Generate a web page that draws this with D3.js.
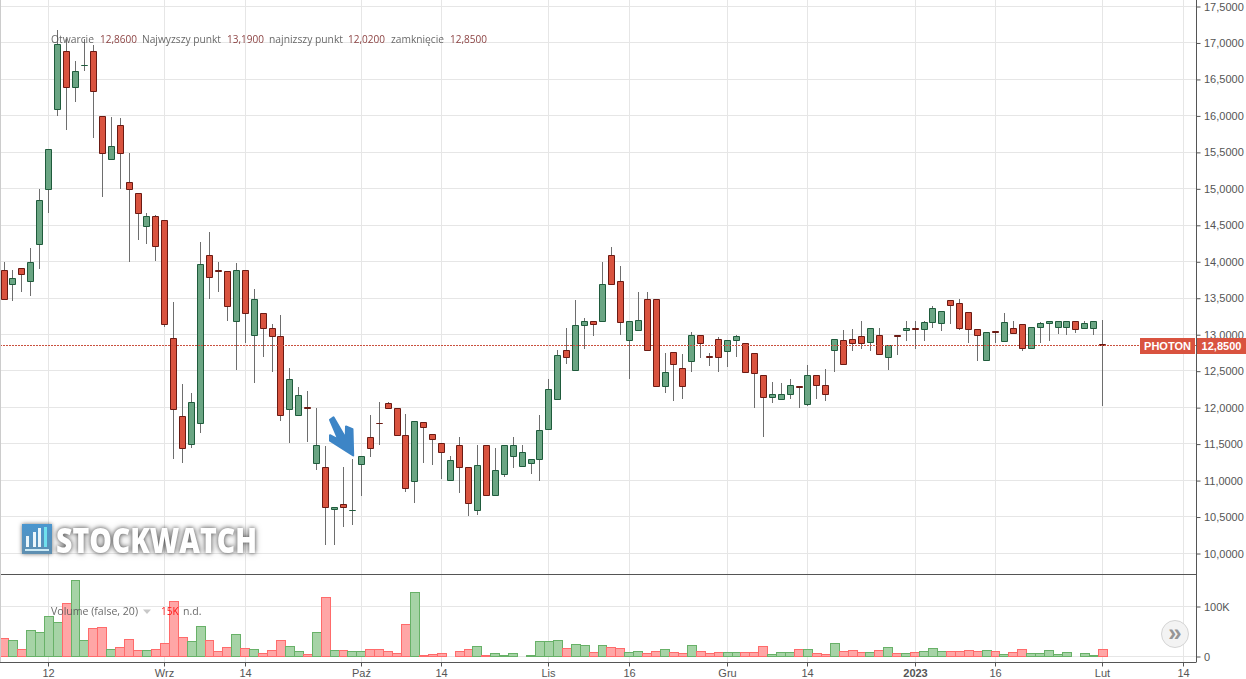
<!DOCTYPE html>
<html><head><meta charset="utf-8">
<script src="https://cdnjs.cloudflare.com/ajax/libs/d3/7.8.5/d3.min.js"></script>
<style>
html,body{margin:0;padding:0;background:#fff;overflow:hidden}
svg{display:block}
text{font-family:"Liberation Sans",Arial,sans-serif}
</style></head><body><svg id="c" width="1246" height="679"></svg>
<script>
const open=[13.884,13.69,13.907,13.73,14.237,14.99,16.09,16.884,16.39,16.69,16.884,15.99,15.40,15.87,15.09,14.936,14.484,14.62,14.566,12.948,11.878,11.493,11.782,14.086,13.88,13.866,13.18,13.88,12.989,13.29,13.085,12.975,11.974,11.891,12.0,11.233,11.178,10.60,10.67,10.585,11.219,11.59,11.785,12.056,11.987,11.617,10.986,11.795,11.63,11.507,10.999,11.48,11.178,10.588,11.48,10.794,11.082,11.329,11.192,11.233,11.288,11.699,12.111,12.783,12.509,13.126,13.18,13.18,14.086,13.729,12.92,13.057,13.482,13.482,12.289,12.755,12.536,12.632,12.989,12.695,12.934,12.769,12.92,12.879,12.742,12.44,12.138,12.11,12.18,12.285,12.042,12.44,12.303,12.783,12.92,12.934,12.975,12.892,12.989,12.687,12.985,13.057,13.085,13.071,13.167,13.153,13.469,13.428,13.304,13.071,12.646,13.035,12.906,13.085,13.14,12.81,13.098,13.153,13.098,13.098,13.18,13.085,13.085,12.86];
const close=[13.473,13.77,13.825,13.99,14.84,15.54,16.98,16.39,16.61,16.695,16.336,15.485,15.58,15.485,14.99,14.662,14.62,14.21,13.14,11.974,11.439,12.07,13.962,13.784,13.87,13.386,13.88,13.29,13.482,13.085,12.975,11.891,12.385,12.166,11.98,11.48,10.63,10.63,10.63,10.59,11.329,11.439,11.78,11.987,11.617,10.89,11.809,11.726,11.562,11.384,11.274,11.178,10.684,11.205,10.794,11.137,11.48,11.48,11.384,11.288,11.685,12.248,12.714,12.687,13.126,13.18,13.14,13.688,13.688,13.167,13.18,13.194,12.783,12.289,12.481,12.591,12.289,12.989,12.879,12.685,12.687,12.92,12.975,12.481,12.467,12.138,12.18,12.18,12.303,12.275,12.44,12.303,12.18,12.934,12.591,12.879,12.879,13.085,12.728,12.852,12.975,13.085,13.075,13.167,13.359,13.318,13.4,13.085,13.071,12.989,13.03,13.025,13.167,13.016,12.81,13.098,13.153,13.18,13.18,13.18,13.071,13.153,13.18,12.85];
const high=[13.994,13.88,13.907,14.186,14.991,15.54,17.176,17.05,16.75,17.05,16.966,15.99,15.98,15.965,15.485,14.936,14.662,14.635,14.566,13.445,12.32,12.184,14.268,14.392,13.994,13.866,13.967,13.88,13.62,13.29,13.14,13.263,12.536,12.275,12.22,11.987,11.466,10.63,11.178,11.288,11.329,11.891,12.07,12.07,11.987,11.905,11.809,11.795,11.63,11.507,11.329,11.59,11.178,11.48,11.48,11.439,11.48,11.59,11.48,11.288,11.891,12.385,12.783,13.085,13.469,13.22,13.18,13.99,14.196,13.935,13.18,13.578,13.578,13.482,12.742,12.755,12.728,13.03,12.989,12.742,12.961,12.92,12.989,12.879,12.742,12.44,12.344,12.33,12.389,12.285,12.577,12.44,12.522,12.934,13.057,13.071,13.18,13.085,13.085,12.852,12.985,13.18,13.18,13.18,13.386,13.318,13.469,13.473,13.304,13.071,13.03,13.035,13.29,13.18,13.14,13.098,13.167,13.18,13.18,13.18,13.18,13.18,13.18,13.19];
const low=[13.473,13.47,13.587,13.532,13.902,14.67,16.0,15.81,16.19,16.62,15.70,14.89,15.40,15.0,14.0,14.305,14.25,14.017,13.107,11.296,11.247,11.452,11.658,13.496,13.592,13.189,12.522,12.887,12.338,12.695,12.489,11.817,11.515,11.891,11.53,11.15,10.12,10.12,10.369,10.39,10.79,11.333,11.493,11.987,11.617,10.843,10.692,11.241,11.214,11.018,10.999,10.83,10.514,10.528,10.794,10.794,11.05,11.173,11.192,11.096,10.994,11.699,12.111,12.6,12.509,12.81,12.99,13.18,13.688,13.0,12.399,13.057,12.783,12.289,12.2,12.092,12.119,12.489,12.681,12.572,12.489,12.558,12.695,12.481,11.996,11.598,12.064,12.11,12.119,11.996,12.029,12.119,12.092,12.489,12.591,12.777,12.805,12.777,12.728,12.522,12.728,12.915,12.805,12.915,13.098,13.052,13.148,13.071,12.887,12.64,12.646,12.887,12.906,13.016,12.777,12.81,12.887,12.924,13.016,12.997,13.025,13.085,13.0,12.02];
const volumeK=[36,32,15,52,48,80,68,106,152,32,56,58,15,19,34,13,13,15,26,110,38,30,60,32,11,19,44,17,15,7,13,32,21,11,5,48,118,13,13,11,11,15,15,11,7,64,128,3,5,7,1,11,15,21,3,7,3,7,1,3,30,30,32,17,25,23,9,23,19,17,9,11,7,11,15,9,7,23,11,7,9,9,9,9,9,21,5,9,9,15,15,7,5,26,11,13,9,9,13,19,7,7,9,11,17,11,11,11,13,11,13,11,5,9,15,7,7,13,5,9,1,7,3,15];
const xTickIndex=[5,18,27,40,49,61,70,81,90,102,111,123,132];
const xTickLabels=["12","Wrz","14","Paź","14","Lis","16","Gru","14","2023","16","Lut","14"];
const priceTicks=[10,10.5,11,11.5,12,12.5,13,13.5,14,14.5,15,15.5,16,16.5,17,17.5];
const volumeTicks=[0,100];
const lastPrice=12.85;
const symbol="PHOTON";
const infoLabels=["Otwarcie","Najwyzszy punkt","najnizszy punkt","zamknięcie"];
const infoValues=["12,8600","13,1900","12,0200","12,8500"];

const RIGHT=1196, W=1246, H=679, SEP=574.5, BOT=662.5;
const cRed="#d9533f", cRedB="#6b1a13", cGrn="#6aa583", cGrnB="#1f5b3c", wick="#6e6e6e", grid="#e6e6e6", axisC="#555";
const snap=v=>Math.floor(v)+0.5;
const x=d3.scaleLinear().domain([0,123]).range([4.05,1102.69]);
const y=d3.scaleLinear().domain([10,17.5]).range([553.2,6.4]);
const yv=d3.scaleLinear().domain([0,100]).range([656.7,606.3]);
const step=x(1)-x(0);
const n=open.length, idx=d3.range(n);
const fmt=d3.format(".4f");
const comma=v=>fmt(v).replace(".",",");
const svg=d3.select("#c");

// grids
const g=svg.append("g").attr("fill","none").attr("stroke",grid).attr("stroke-width",1);
g.selectAll(".v").data(xTickIndex).join("line").attr("x1",d=>snap(x(d))).attr("x2",d=>snap(x(d))).attr("y1",0).attr("y2",BOT);
g.selectAll(".h").data(priceTicks).join("line").attr("x1",0).attr("x2",RIGHT).attr("y1",d=>snap(y(d))).attr("y2",d=>snap(y(d)));
g.selectAll(".hv").data(volumeTicks).join("line").attr("x1",0).attr("x2",RIGHT).attr("y1",d=>snap(yv(d))).attr("y2",d=>snap(yv(d)));

// watermark
const wm=svg.append("g");
const defs=svg.append("defs");
const lg=defs.append("linearGradient").attr("id","ic").attr("x1",0).attr("y1",0).attr("x2",0).attr("y2",1);
lg.append("stop").attr("offset",0).attr("stop-color","#4a96cf");
lg.append("stop").attr("offset",1).attr("stop-color","#5f8fb0");
wm.append("rect").attr("x",22).attr("y",524).attr("width",30).attr("height",30).attr("fill","url(#ic)").style("filter","drop-shadow(0 0 2px rgba(0,0,0,.55))");
[[26,536,3,11],[33,532,3,15],[38,528,3,19],[44,527,3,20]].forEach((b,i)=>wm.append("rect").attr("x",b[0]).attr("y",b[1]).attr("width",b[2]).attr("height",b[3]).attr("fill",i==3?"#6fe0ee":"#eaf6fb"));
wm.append("rect").attr("x",25).attr("y",549).attr("width",24).attr("height",2).attr("fill","#cdeaf5");
wm.append("text").text("STOCKWATCH").attr("x",56).attr("y",553).attr("textLength",201).attr("lengthAdjust","spacingAndGlyphs")
  .attr("font-size",36).attr("font-weight",800).style("font-family","'Open Sans'").attr("fill","#fff")
  .style("filter","drop-shadow(0 0 2px rgba(0,0,0,.55)) drop-shadow(0 0 3px rgba(0,0,0,.3))");

// volume
const vg=svg.append("g");
const red=i=>close[i]<open[i];
vg.selectAll("rect").data(idx).join("rect")
  .attr("x",i=>snap(x(i)-step/2)).attr("width",i=>snap(x(i+1)-step/2)-snap(x(i)-step/2))
  .attr("y",i=>snap(yv(volumeK[i]))).attr("height",i=>Math.max(0,snap(yv(0))-snap(yv(volumeK[i]))))
  .attr("fill",i=>red(i)?"#ffa6a6":"#a6d3a6").attr("stroke",i=>red(i)?"#ff6b6b":"#68b168").attr("stroke-width",1);

// candles
const cg=svg.append("g");
cg.selectAll("line").data(idx).join("line")
  .attr("x1",i=>snap(x(i))).attr("x2",i=>snap(x(i)))
  .attr("y1",i=>Math.floor(y(high[i]))).attr("y2",i=>Math.ceil(y(low[i])))
  .attr("stroke",wick).attr("stroke-width",1);
cg.selectAll("path").data(idx).join("path")
  .attr("d",i=>{const c=snap(x(i)),t=snap(y(Math.max(open[i],close[i]))),b=snap(y(Math.min(open[i],close[i])));
    return `M${c-3},${t}H${c+3}V${b}H${c-3}Z`;})
  .attr("fill",i=>red(i)?cRed:cGrn).attr("stroke",i=>red(i)?cRedB:cGrnB).attr("stroke-width",1);

// arrow annotation, anchored to a data point
const arrowAnchor={i:39,v:11.33};
const arrowShape=[[-24,-36.5],[-20.5,-39],[-8.3,-18],[-8,-29.7],[-1.5,-27],[-.8,-.8],[-24,-15.5],[-24,-21],[-15.5,-16.5]];
svg.append("path").attr("transform",`translate(${x(arrowAnchor.i)+1.6},${y(arrowAnchor.v)})`)
  .attr("d",d3.line()(arrowShape)+"Z").attr("fill","#3d85c6").attr("stroke","#3d85c6").attr("stroke-width",2).attr("stroke-linejoin","round");

// last price line
svg.append("line").attr("x1",0).attr("x2",RIGHT).attr("y1",snap(y(lastPrice))).attr("y2",snap(y(lastPrice)))
  .attr("stroke","#c9503e").attr("stroke-width",1).attr("stroke-dasharray","2,1");

// axes and frame
const frame=svg.append("g").attr("stroke",axisC).attr("stroke-width",1);
frame.append("line").attr("x1",0).attr("x2",RIGHT).attr("y1",SEP).attr("y2",SEP);
svg.append("line").attr("x1",.5).attr("x2",.5).attr("y1",0).attr("y2",BOT).attr("stroke","#ccc");
function style(a){a.selectAll("text").attr("fill",axisC).attr("font-size",11).style("font-family","'Liberation Sans'");a.selectAll("line").attr("stroke",axisC);a.selectAll(".domain").attr("stroke",axisC);}
const yAxis=svg.append("g").attr("transform",`translate(${RIGHT+.5},0)`)
  .call(d3.axisRight(d3.scaleLinear().domain(y.domain()).range(y.range().map(v=>snap(v)))).tickValues(priceTicks).tickFormat(comma).tickSize(4).tickPadding(3.5).tickSizeOuter(0));
yAxis.select(".domain").attr("d",`M0,0V${BOT}`);
style(yAxis);
const yvAxis=svg.append("g").attr("transform",`translate(${RIGHT+.5},0)`)
  .call(d3.axisRight(d3.scaleLinear().domain(yv.domain()).range(yv.range().map(v=>snap(v)))).tickValues(volumeTicks).tickFormat(v=>v?v+"K":"0").tickSize(4).tickPadding(3.5).tickSizeOuter(0));
yvAxis.select(".domain").remove();
style(yvAxis);
const xLab=new Map(xTickIndex.map((d,i)=>[d,xTickLabels[i]]));
const xAxis=svg.append("g").attr("transform",`translate(0,${BOT})`)
  .call(d3.axisBottom(d3.scaleLinear().domain([0,1]).range([x(0),x(1)])).tickValues(xTickIndex).tickFormat(d=>xLab.get(d)).tickSize(4).tickPadding(3).tickSizeOuter(0));
xAxis.selectAll(".tick").attr("transform",d=>`translate(${snap(x(d))},0)`);
xAxis.select(".domain").attr("d",`M0,0H${RIGHT}`);
style(xAxis);
xAxis.selectAll("text").filter(d=>d===102).attr("font-weight",700);

// last price labels
const ly=snap(y(lastPrice));
svg.append("rect").attr("x",1140).attr("y",ly-7.5).attr("width",55).attr("height",16).attr("fill",cRed);
svg.append("rect").attr("x",1197).attr("y",ly-7.5).attr("width",49).attr("height",16).attr("fill",cRed);
svg.append("text").text(symbol).attr("x",1167.5).attr("y",ly+4.5).attr("text-anchor","middle").attr("font-size",11).attr("font-weight",700).attr("fill","#fff");
svg.append("text").text(comma(lastPrice)).attr("x",1221.5).attr("y",ly+4.5).attr("text-anchor","middle").attr("font-size",11).attr("font-weight",700).attr("fill","#fff");

// legends
function legendText(s,xp,w,yp,fill){
  svg.append("text").text(s).attr("x",xp).attr("y",yp).attr("textLength",w).attr("lengthAdjust","spacingAndGlyphs")
    .attr("font-size",11).style("font-family","'Open Sans'").attr("fill",fill).attr("opacity",.88);
}
const labelX=[51,142,269,391], labelW=[43,79,74,53], valueX=[100,227,348,450];
infoLabels.forEach((s,i)=>{legendText(s,labelX[i],labelW[i],43,"#555");legendText(infoValues[i],valueX[i],37,43,"#7d2a2a");});
legendText("Volume (false, 20)",51,87,615,"#555");
svg.append("path").attr("d","M143,609.5h8l-4,4.5z").attr("fill","#c8c8c8");
legendText("15K",161,17.5,615,"#f00");
legendText("n.d.",183,18.5,615,"#555");

// scroll button
svg.append("circle").attr("cx",1175).attr("cy",634).attr("r",13.5).attr("fill","#f3f3f3").attr("stroke","#d4d4d4");
svg.append("text").text("»").attr("x",1175).attr("y",641).attr("text-anchor","middle").attr("font-size",24).attr("font-weight",700).attr("fill","#969696");
</script></body></html>
